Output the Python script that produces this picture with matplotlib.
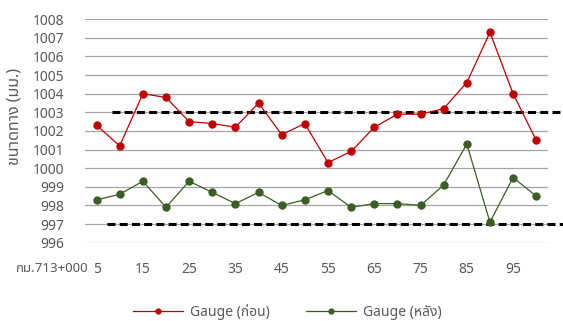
import matplotlib
matplotlib.use("Agg")
import matplotlib.pyplot as plt

plt.rcParams['font.family'] = ['Noto Sans', 'Noto Sans Thai']

# ระยะ (ม.) จาก กม.713+000
stations = [5, 10, 15, 20, 25, 30, 35, 40, 45, 50,
            55, 60, 65, 70, 75, 80, 85, 90, 95, 100]
gauge_before = [1002.3, 1001.2, 1004.0, 1003.8, 1002.5, 1002.4, 1002.2, 1003.5, 1001.8, 1002.4,
                1000.3, 1000.9, 1002.2, 1002.9, 1002.9, 1003.2, 1004.6, 1007.3, 1004.0, 1001.5]
gauge_after = [998.3, 998.6, 999.3, 997.9, 999.3, 998.7, 998.1, 998.7, 998.0, 998.3,
               998.8, 997.9, 998.1, 998.1, 998.0, 999.1, 1001.3, 997.1, 999.5, 998.5]
upper_limit = 1003
lower_limit = 997
start_label = "กม.713+000"

red = '#C00000'
green = '#3B5E24'
text_col = '#595959'

fig = plt.figure(figsize=(5.63, 3.21), dpi=100)
ax = fig.add_axes([0.151, 0.244, 0.822, 0.696])

x = list(range(len(stations)))
ax.plot(x, gauge_before, color=red, lw=0.9, marker='o', ms=5, label='Gauge (ก่อน)', zorder=4)
ax.plot(x, gauge_after, color=green, lw=0.9, marker='o', ms=5, label='Gauge (หลัง)', zorder=4)

# เส้นพิกัด บน/ล่าง
ax.plot([0.68, 20.15], [upper_limit, upper_limit], color='black', lw=2.2,
        ls=(0, (2.6, 1.4)), clip_on=False, zorder=3)
ax.plot([0.46, 20.15], [lower_limit, lower_limit], color='black', lw=2.2,
        ls=(0, (2.6, 1.4)), clip_on=False, zorder=3)

ax.set_xlim(-0.5, len(stations) - 0.5)
ax.set_ylim(996, 1008)
ax.set_yticks(range(996, 1009))
ax.set_xticks(x[::2])
ax.set_xticklabels([str(s) for s in stations[::2]])
ax.grid(axis='y', color='#a6a6a6', lw=0.9)
ax.set_axisbelow(True)
for s in ax.spines.values():
    s.set_visible(False)
ax.tick_params(axis='both', length=0, labelsize=10, labelcolor=text_col)
ax.tick_params(axis='y', pad=15)
ax.tick_params(axis='x', pad=14)

ax.text(0.006, -0.114, start_label, transform=ax.transAxes, ha='right', va='center',
        fontsize=9.5, color=text_col)
ax.set_ylabel('ขนาดทาง (มม.)', fontsize=11.5, color=text_col)
ax.yaxis.set_label_coords(-0.136, 0.564)

fig.legend(loc='lower center', bbox_to_anchor=(0.51, -0.035), ncol=2, frameon=False,
           fontsize=10, labelcolor=text_col, markerscale=0.7, handlelength=3.6,
           columnspacing=2.6, handletextpad=0.5)

fig.savefig('out.png', dpi=100)
